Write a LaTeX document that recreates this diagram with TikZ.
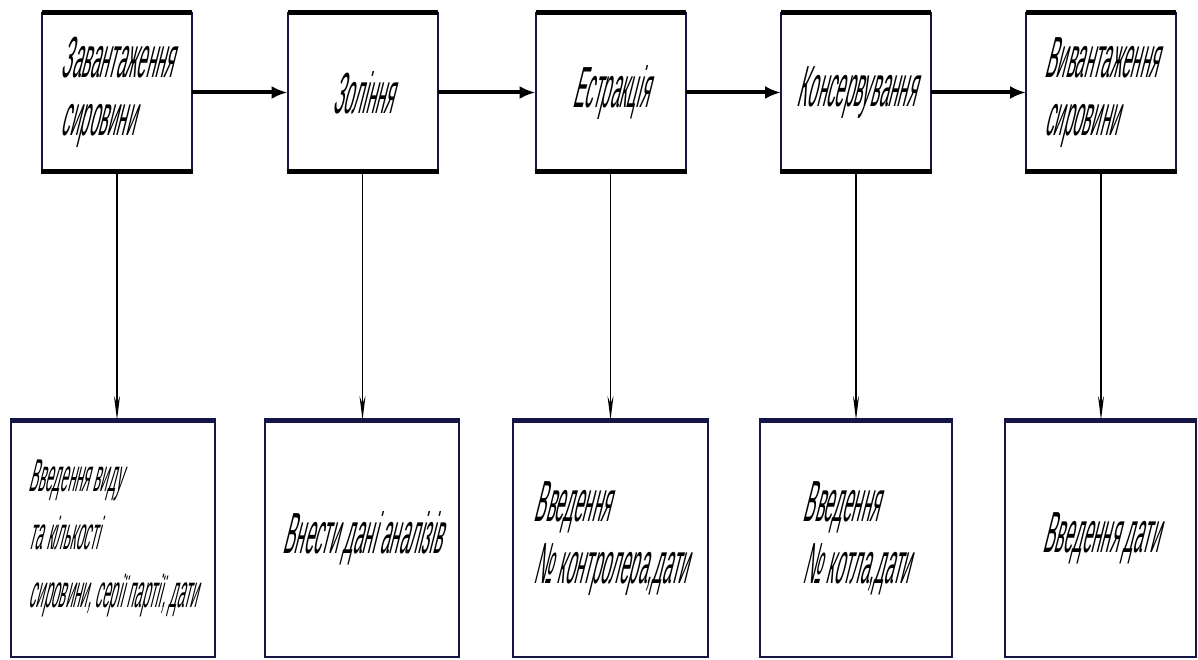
\documentclass[tikz,border=0pt]{standalone}
\usepackage{fontspec}
\setmainfont[FakeStretch=0.29, FakeSlant=0.25]{Liberation Sans}
\usetikzlibrary{arrows.meta}
\definecolor{frame}{RGB}{22,22,70}

\begin{document}
\begin{tikzpicture}[x=1pt, y=-1pt,
    stage/.style={draw=frame, line width=2pt, minimum width=150pt, minimum height=159pt,
        inner sep=0pt, outer sep=0pt, align=left, font=\fontsize{58}{58}\selectfont},
    entry/.style={draw=frame, line width=2.5pt, minimum height=237pt,
        inner sep=0pt, outer sep=0pt, align=left, font=\fontsize{58}{62}\selectfont},
    rim/.style={line width=5pt, shorten <=-1pt, shorten >=-1pt},
    flow/.style={line width=4pt, -{Latex[length=16pt, width=13pt]}},
    drop/.style={line width=1.5pt, -{Stealth[length=24pt, width=6pt]}}]
    \useasboundingbox (0,0) rectangle (1198,660);
    % process stages
    \node[stage] (load) at (117,92.5) {Завантаження\\сировини};
    \node[stage] (lime) at (362.5,92.5) {Зоління};
    \node[stage] (extr) at (610.5,92.5) {Естракція};
    \node[stage] (cons) at (856,92.5) {Консервування};
    \node[stage] (unld) at (1101,92.5) {Вивантаження\\сировини};
    % data entry
    \node[entry, minimum width=204pt, font=\fontsize{46}{58}\selectfont] (kind) at (113,538.5)
        {Введення виду\\та кількості\\сировини, серії партії, дати\hspace{8pt}};
    \node[entry, minimum width=194pt] (test) at (362,538.5) {Внести дані аналізів};
    \node[entry, minimum width=195pt] (ctrl) at (610.5,538.5) {Введення\\№ контролера,дати};
    \node[entry, minimum width=192pt] (tank) at (856,538.5) {Введення\\№ котла,дати};
    \node[entry, minimum width=191pt] (date) at (1100.5,538.5) {Введення дати};
    \foreach \n in {load,lime,extr,cons,unld}
        \draw[rim] (\n.north west) -- (\n.north east) (\n.south west) -- (\n.south east);
    \foreach \n in {kind,test,ctrl,tank,date}
        \draw[rim, frame] (\n.north west) -- (\n.north east);
    \draw[flow] (load) -- (lime);
    \draw[flow] (lime) -- (extr);
    \draw[flow] (extr) -- (cons);
    \draw[flow] (cons) -- (unld);
    \draw[drop] (load.south) -- (load.south |- kind.north);
    \draw[drop] (lime.south) -- (lime.south |- test.north);
    \draw[drop] (extr.south) -- (extr.south |- ctrl.north);
    \draw[drop] (cons.south) -- (cons.south |- tank.north);
    \draw[drop] (unld.south) -- (unld.south |- date.north);
\end{tikzpicture}
\end{document}
